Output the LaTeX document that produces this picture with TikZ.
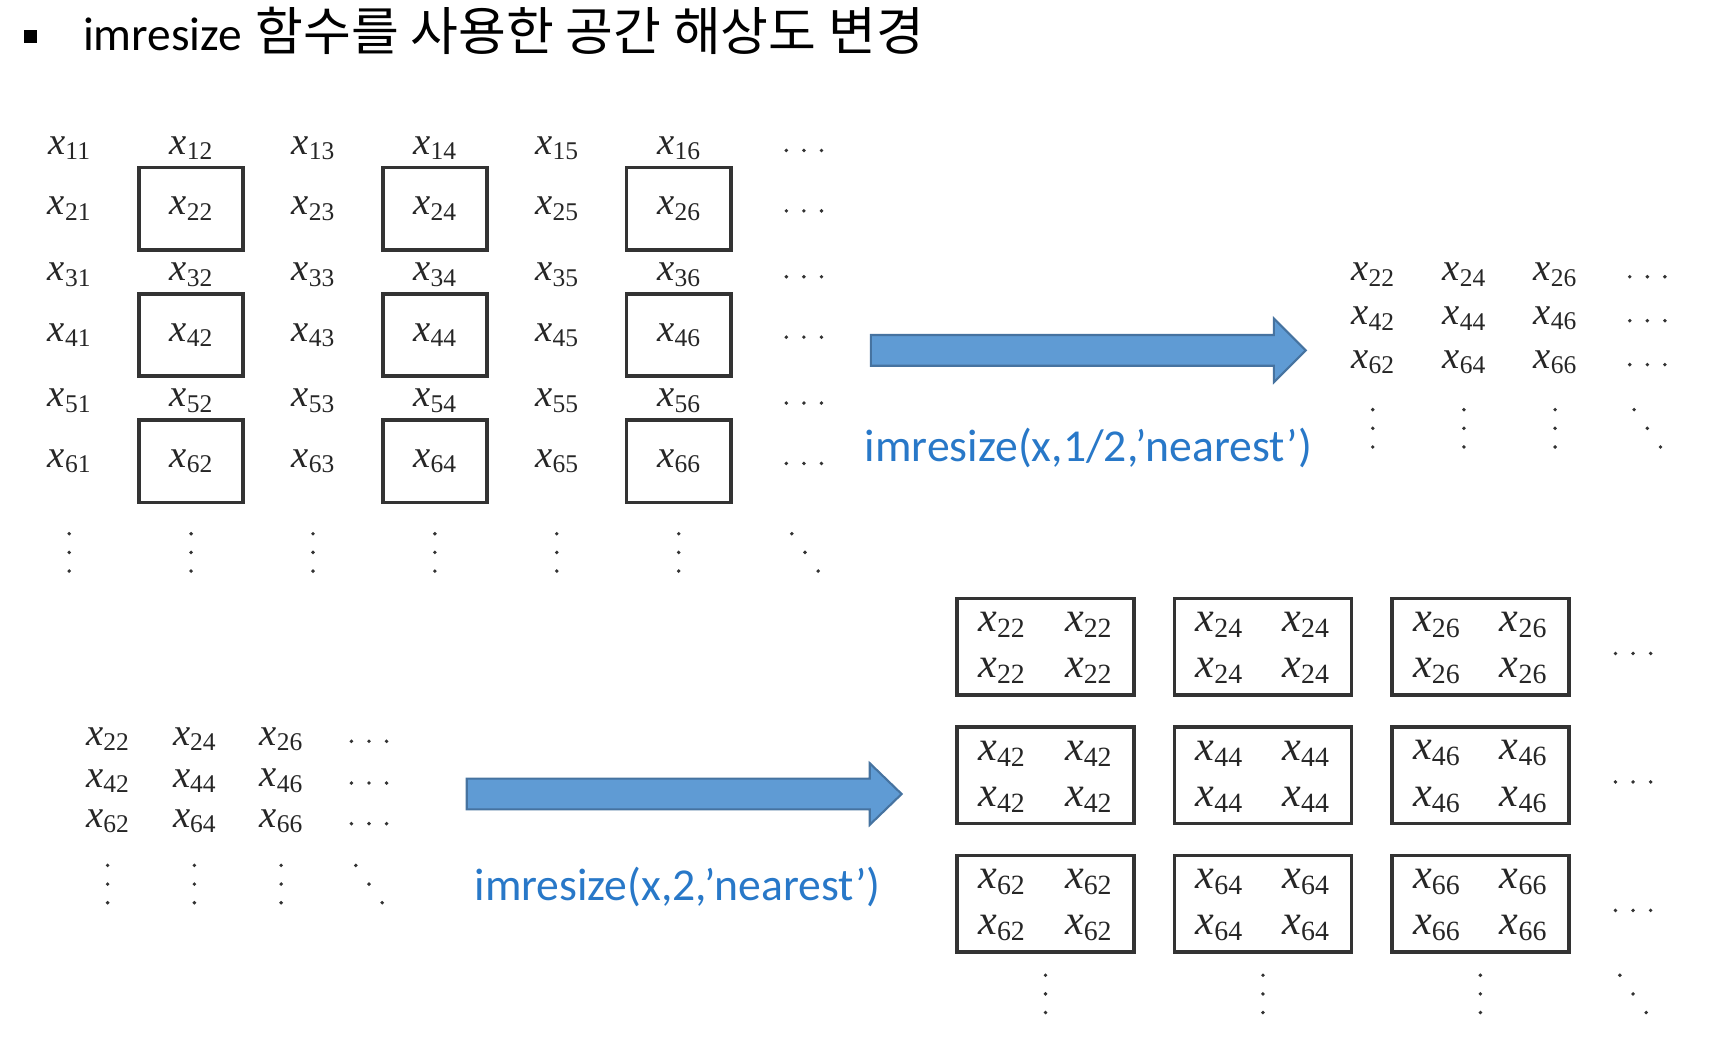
\documentclass[tikz,border=0pt]{standalone}
\usepackage{fontspec}
\usepackage{tikz}
\newfontfamily\hangul{Noto Sans CJK KR}
\newfontfamily\calib{Carlito}
\newfontfamily\tms{Liberation Serif}
\definecolor{arrowblue}{RGB}{95,155,212}
\definecolor{arrowedge}{RGB}{70,115,160}
\definecolor{labelblue}{RGB}{40,120,200}
\newcommand{\xe}[1]{{\itshape x}\raisebox{-0.14em}{\scalebox{0.66}{#1}}}
% dots as in \cdots, \vdots, \ddots
\newcommand{\hdts}[2]{\foreach \k in {-1,0,1} {\fill[black!80] ({#1+16*\k},{#2+2}) circle (0.55pt);}}
\newcommand{\vdts}[2]{\foreach \k in {-1,0,1} {\fill[black!80] ({#1},{#2+17*\k}) circle (0.55pt);}}
\newcommand{\ddts}[2]{\foreach \k in {-1,0,1} {\fill[black!80] ({#1+12*\k},{#2+17*\k}) circle (0.55pt);}}

\begin{document}
\begin{tikzpicture}[x=0.010982cm,y=-0.010982cm,
  ent/.style={font=\tms\fontsize{11}{13}\selectfont,text=black!85,inner sep=0pt},
  bigent/.style={font=\tms\fontsize{12}{14}\selectfont,text=black!85,inner sep=0pt},
  smallbox/.style={draw=black!80,line width=1pt,minimum width=1.043cm,minimum height=0.824cm},
  widebox/.style={draw=black!80,line width=1pt,minimum width=1.768cm,minimum height=0.966cm},
  blockarrow/.style={fill=arrowblue,draw=arrowedge,line width=0.6pt},
  cmd/.style={font=\calib\fontsize{13}{15}\selectfont,text=labelblue,inner sep=0pt}]
\useasboundingbox (0,0) rectangle (1568,958);

\fill (22,27) rectangle (34,39);
\node[anchor=base west,inner sep=0pt,font=\calib\fontsize{13.5}{16}\selectfont] (title) at (75,46) {imresize};
\node[anchor=base west,inner sep=0pt,font=\hangul\fontsize{14.8}{17}\selectfont] (titlekr) at (232,46) {함수를 사용한 공간 해상도 변경};

% original image
\foreach \r/\y in {1/135,2/190,3/250,4/305,5/365,6/420}{
  \foreach \c in {1,...,6}
    \node[ent] (a\r\c) at ({63+111*(\c-1)},\y) {\xe{\r\c}};
  \hdts{732}{\y}
}
\foreach \c in {1,...,6}{\vdts{63+111*(\c-1)}{503}}
\ddts{733}{503}
\foreach \r in {2,4,6}
  \foreach \c in {2,4,6}
    \node[smallbox] (s\r\c) at (a\r\c) {};

% downsampling
\draw[blockarrow] (793,305) -- (1160,305) -- (1160,290) -- (1189,319) -- (1160,348) -- (1160,333) -- (793,333) -- cycle;
\node[cmd] (half) at (991,408) {imresize(x,1/2,’nearest’)};
\foreach \r/\y/\i in {1/250/2,2/290/4,3/330/6}{
  \foreach \c/\x/\j in {1/1250/2,2/1333/4,3/1416/6}
    \node[ent] (b\r\c) at (\x,\y) {\xe{\i\j}};
  \hdts{1500}{\y}
}
\foreach \x in {1250,1333,1416}{\vdts{\x}{390}}
\ddts{1500}{390}

% upsampling
\foreach \r/\y/\i in {1/673/2,2/711/4,3/748/6}{
  \foreach \c/\x/\j in {1/98/2,2/177/4,3/256/6}
    \node[ent] (c\r\c) at (\x,\y) {\xe{\i\j}};
  \hdts{336}{\y}
}
\foreach \x in {98,177,256}{\vdts{\x}{805}}
\ddts{336}{805}
\draw[blockarrow] (425,709) -- (792,709) -- (792,695) -- (821,723) -- (792,751) -- (792,737) -- (425,737) -- cycle;
\node[cmd] (double) at (617,808) {imresize(x,2,’nearest’)};
\foreach \r/\y/\i in {1/589/2,2/706/4,3/823/6}{
  \foreach \c/\x/\j in {1/952/2,2/1150/4,3/1348/6}{
    \node[widebox] (w\r\c) at (\x,\y) {};
    \node[bigent] at ([shift={(-40,-20)}]w\r\c) {\xe{\i\j}};
    \node[bigent] at ([shift={(39,-20)}]w\r\c) {\xe{\i\j}};
    \node[bigent] at ([shift={(-40,22)}]w\r\c) {\xe{\i\j}};
    \node[bigent] at ([shift={(39,22)}]w\r\c) {\xe{\i\j}};
  }
  \hdts{1487}{\y+4}
}
\foreach \x in {952,1150,1348}{\vdts{\x}{905}}
\ddts{1487}{905}
\end{tikzpicture}
\end{document}
